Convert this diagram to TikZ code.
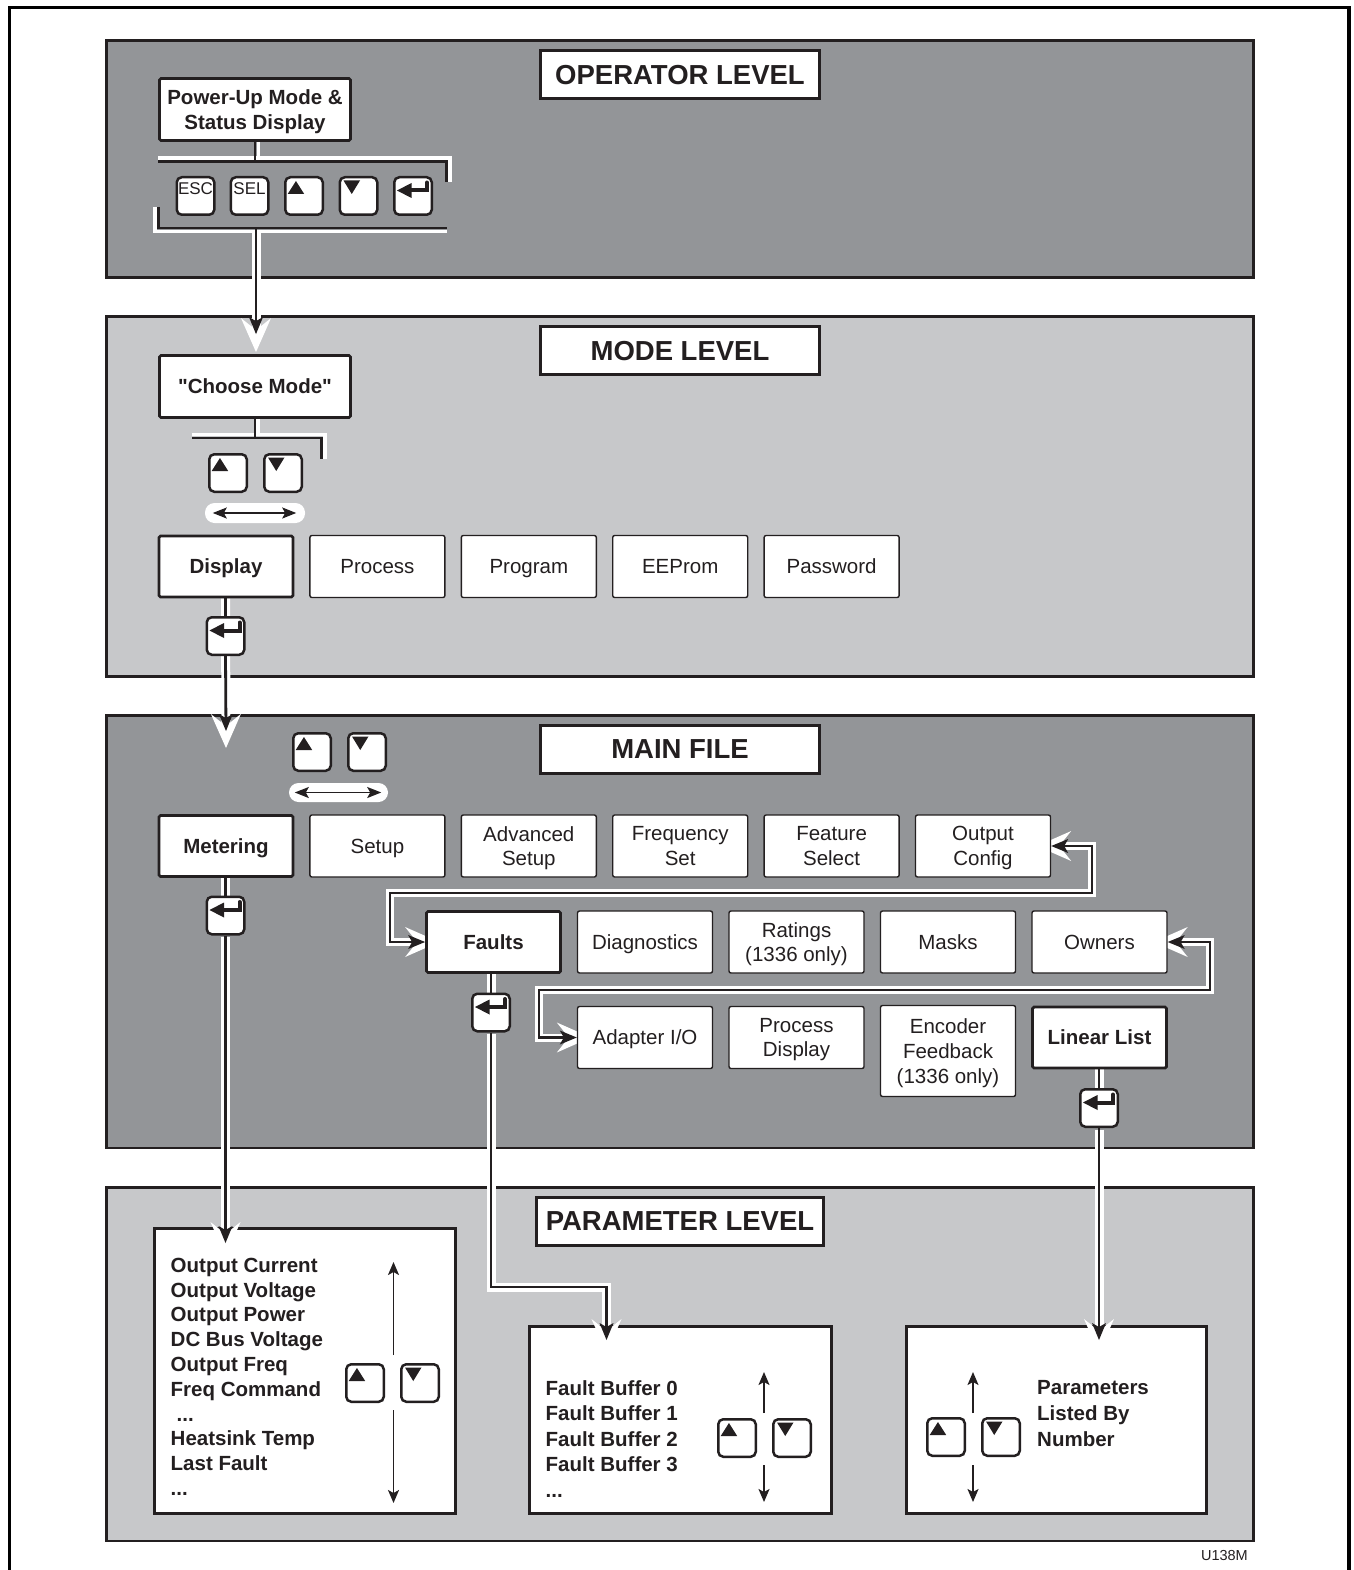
\documentclass[tikz,border=0pt]{standalone}
\usepackage{fontspec}
\setmainfont{Liberation Sans}
\newfontfamily\rawfont{Liberation Sans}
\usetikzlibrary{arrows.meta,calc}
\definecolor{ink}{HTML}{231F20}
\definecolor{darkpanel}{HTML}{939598}
\definecolor{lightpanel}{HTML}{C7C8CA}
\pgfdeclarelayer{bg}
\pgfdeclarelayer{conn}
\pgfsetlayers{bg,conn,main}
\newcommand{\dgbody}{\fontsize{20.5}{24.8}\selectfont}
\newcommand{\dgup}[1]{\fill[ink] ($(#1.north west)+(3.7,18)$) -- ++(16.5,0) -- ++(-8.25,-13) -- cycle;}
\newcommand{\dgdown}[1]{\fill[ink] ($(#1.north west)+(5,4.5)$) -- ++(16.5,0) -- ++(-8.25,13.5) -- cycle;}
\newcommand{\dgenter}[1]{\draw[ink, line width=4pt, line cap=round] ($(#1.north west)+(34,6.5)$) -- ++(0,8) -- ++(-16,0); \fill[ink] ($(#1.north west)+(4,14.5)$) -- ++(14.5,-7.5) -- ++(0,15) -- cycle;}
\tikzset{
  panelbox/.style={draw=ink, line width=2.5pt},
  titlebox/.style={draw=ink, line width=2.6pt, fill=white, minimum width=279pt, minimum height=48.5pt, inner sep=0pt, text depth=0pt, font=\bfseries\fontsize{27.5}{30}\selectfont, text=ink},
  plainbox/.style={draw=ink, line width=1.4pt, fill=white, rounded corners=2pt, minimum width=135pt, minimum height=62pt, inner sep=0pt, text depth=0pt, align=center, font=\dgbody, text=ink},
  boldbox/.style={plainbox, line width=2.8pt, rounded corners=1.5pt, minimum width=134pt, minimum height=61pt, font=\bfseries\dgbody},
  pkey/.style={draw=ink, line width=2.5pt, fill=white, rounded corners=5pt, minimum width=37.5pt, minimum height=37.5pt, inner sep=0pt},
  keytext/.style={anchor=base, inner sep=0pt, font=\fontsize{17}{17}\selectfont, text=ink},
  pill/.style={fill=white, rounded corners=9.5pt, minimum width=99pt, minimum height=19pt, inner sep=0pt},
  wband/.style={draw=white, line width=9pt},
  bline/.style={draw=ink, line width=2.8pt},
  wedge/.style={draw=white, line width=3.5pt},
  wtip/.style={-{Stealth[length=34pt,width=30pt,inset=12pt,line width=0pt]}},
  btip/.style={-{Stealth[length=17pt,width=14pt,inset=4pt,line width=0pt]}},
  wtips/.style={{Stealth[length=34pt,width=30pt,inset=12pt,line width=0pt]}-{Stealth[length=34pt,width=30pt,inset=12pt,line width=0pt]}},
  btips/.style={{Stealth[length=17pt,width=14pt,inset=4pt,line width=0pt]}-{Stealth[length=17pt,width=14pt,inset=4pt,line width=0pt]}},
  thinarrow/.style={draw=ink, line width=1.6pt, -{Stealth[length=13pt,width=11pt,inset=3pt]}},
  pillarrow/.style={draw=ink, line width=1.8pt, {Stealth[length=14pt,width=11pt,inset=3pt]}-{Stealth[length=14pt,width=11pt,inset=3pt]}},
  listtext/.style={font=\bfseries\dgbody, align=left, inner sep=0pt, anchor=north west, text=ink},
  parambox/.style={draw=ink, line width=2.8pt, fill=white, inner sep=0pt},
}
\begin{document}
\begin{tikzpicture}[x=1pt,y=-1pt]
\useasboundingbox (0,0) rectangle (1353,1570);
\begin{pgfonlayer}{bg}
  \fill[white] (0,0) rectangle (1353,1570);
  \draw[line width=3.5pt] (9.5,1575) -- (9.5,7.5) -- (1349,7.5) -- (1349,1575);
  \draw[panelbox, fill=darkpanel] (106.5,40.5) rectangle (1253.5,277.5);
  \draw[panelbox, fill=lightpanel] (106.5,316.5) rectangle (1253.5,676.5);
  \draw[panelbox, fill=darkpanel] (106.5,715.5) rectangle (1253.5,1148);
  \draw[panelbox, fill=lightpanel] (106.5,1187.5) rectangle (1253.5,1541);
\end{pgfonlayer}

% titles
\node[titlebox] (tOp) at (680,74.5) {OPERATOR LEVEL};
\node[titlebox] (tMo) at (680,350.5) {MODE LEVEL};
\node[titlebox] (tMa) at (680,749.5) {MAIN FILE};
\node[titlebox, minimum width=287pt] (tPa) at (680,1221.5) {PARAMETER LEVEL};

% operator level
\node[boldbox, minimum width=191pt, minimum height=62pt] (pwr) at (255,109.5) {Power-Up Mode \&\\Status Display};
\node[pkey] (kesc) at (195.5,196) {};
\node[pkey] (ksel) at (249.5,196) {};
\node[pkey] (kup) at (304,196) {};
\node[pkey] (kdn) at (358.5,196) {};
\node[pkey] (kent) at (413,196) {};
\node[keytext] (tesc) at ($(kesc.north)+(0,18.5)$) {ESC};
\node[keytext] (tsel) at ($(ksel.north)+(0,18.5)$) {SEL};
\dgup{kup} \dgdown{kdn} \dgenter{kent}

% mode level
\node[boldbox, minimum width=191pt, minimum height=62pt] (choose) at (255,386.5) {{\rawfont "Choose Mode"}};
\node[pkey] (mup) at (228,473) {};
\node[pkey] (mdn) at (283,473) {};
\dgup{mup} \dgdown{mdn}
\node[pill, minimum width=100pt, minimum height=20pt] (mpill) at (255,513) {};
\node[boldbox] (disp) at (226,566.5) {Display};
\node[plainbox] (proc) at (377.4,566.5) {Process};
\node[plainbox] (prog) at (528.8,566.5) {Program};
\node[plainbox] (eep) at (680.2,566.5) {EEProm};
\node[plainbox] (pwd) at (831.6,566.5) {Password};
\node[pkey] (dkey) at (225.5,636) {};
\dgenter{dkey}

% main file
\node[pkey] (fup) at (312,752) {};
\node[pkey] (fdn) at (367,752) {};
\dgup{fup} \dgdown{fdn}
\node[pill] (fpill) at (338.5,792.5) {};
\node[boldbox] (met) at (226,846) {Metering};
\node[plainbox] (setup) at (377.4,846) {Setup};
\node[plainbox] (adv) at (528.8,846) {Advanced\\Setup};
\node[plainbox] (freq) at (680.2,846) {Frequency\\Set};
\node[plainbox] (feat) at (831.6,846) {Feature\\Select};
\node[plainbox] (oc) at (983,846) {Output\\Config};
\node[boldbox] (fa) at (493.5,942) {Faults};
\node[plainbox] (diag) at (645,942) {Diagnostics};
\node[plainbox] (rat) at (796.5,942) {Ratings\\(1336 only)};
\node[plainbox] (mask) at (948,942) {Masks};
\node[plainbox] (ow) at (1099.5,942) {Owners};
\node[plainbox] (ad) at (645,1037.5) {Adapter I/O};
\node[plainbox] (pdisp) at (796.5,1037.5) {Process\\Display};
\node[plainbox, minimum height=91pt] (enc) at (948,1051) {Encoder\\Feedback\\(1336 only)};
\node[boldbox] (lin) at (1099.5,1037.5) {Linear List};
\node[pkey] (mkey) at (225.5,915.5) {};
\node[pkey] (fkey) at (491,1012.5) {};
\node[pkey] (lkey) at (1099,1108) {};
\dgenter{mkey} \dgenter{fkey} \dgenter{lkey}

% parameter level boxes
\node[parambox, minimum width=301pt, minimum height=285pt] (pb1) at (305,1371) {};
\node[parambox, minimum width=302pt, minimum height=187pt] (pb2) at (680.5,1420) {};
\node[parambox, minimum width=300pt, minimum height=187pt] (pb3) at (1056.5,1420) {};
\node[pkey] (p1u) at (365,1383) {};
\node[pkey] (p1d) at (420,1383) {};
\node[pkey] (p2u) at (737,1438) {};
\node[pkey] (p2d) at (792,1438) {};
\node[pkey] (p3u) at (946,1437) {};
\node[pkey] (p3d) at (1001,1437) {};
\dgup{p1u} \dgdown{p1d} \dgup{p2u} \dgdown{p2d} \dgup{p3u} \dgdown{p3d}

% pill arrows
\draw[pillarrow] ($(mpill.west)+(8,0)$) -- ($(mpill.east)+(-9,0)$);
\draw[pillarrow] ($(fpill.west)+(6,0)$) -- ($(fpill.east)+(-7,0)$);

% connectors behind nodes
\begin{pgfonlayer}{conn}
  % operator brackets
  \coordinate (tbL) at (158,161.5);
  \coordinate (tbR) at (446.5,161.5);
  \coordinate (tbE) at (446.5,182);
  \coordinate (bbT) at (158.5,207);
  \coordinate (bbL) at (158.5,228);
  \coordinate (bbR) at (447,228);
  \coordinate (bbS) at (256,228);
  \draw[wedge] ($(pwr.south)+(3.5,0)$) -- ($(pwr.south |- tbL)+(3.5,-3.5)$);
  \draw[wedge] ($(tbL)+(0,-3.5)$) -- ($(tbR)+(3.5,-3.5)$) -- ($(tbE)+(3.5,0)$);
  \draw[wedge] ($(bbT)+(-3.5,0)$) -- ($(bbL)+(-3.5,3.5)$) -- ($(bbR)+(0,3.5)$);
  \draw[wband, wtip] ($(bbS)+(0,5)$) -- ($(choose.north)+(1,-2)$);
  \draw[bline] (pwr.south) -- (pwr.south |- tbL);
  \draw[bline] (tbL) -- (tbR) -- (tbE);
  \draw[bline] (bbT) -- (bbL) -- (bbR);
  \draw[bline, btip] (bbS) -- ($(choose.north)+(1,-20)$);
  % mode bracket
  \coordinate (mbL) at (192,438);
  \coordinate (mbR) at (321.5,438);
  \coordinate (mbE) at (321.5,459);
  \draw[wedge] ($(choose.south)+(3,0)$) -- ($(choose.south |- mbL)+(3,-3.5)$);
  \draw[wedge] ($(mbL)+(0,-3.5)$) -- ($(mbR)+(3.5,-3.5)$) -- ($(mbE)+(3.5,0)$);
  \draw[bline] (choose.south) -- (choose.south |- mbL);
  \draw[bline] (mbL) -- (mbR) -- (mbE);
  % display -> main file
  \coordinate (dtipB) at (226,731);
  \coordinate (dtipW) at (226,748);
  \draw[wband, wtip] (dkey.north |- disp.south) -- (dtipW);
  \draw[bline] (dkey.north |- disp.south) -- (dkey.north);
  \draw[bline, btip] (dkey.south) -- (dtipB);
  % stems from main file boxes to their keys
  \draw[wband] (mkey.north |- met.south) -- (mkey.north);
  \draw[bline] (mkey.north |- met.south) -- (mkey.north);
  \draw[wband] (fkey.north |- fa.south) -- (fkey.north);
  \draw[bline] (fkey.north |- fa.south) -- (fkey.north);
  \draw[wband] (lkey.north |- lin.south) -- (lkey.north);
  \draw[bline] (lkey.north |- lin.south) -- (lkey.north);
  % loop Output Config <-> Faults
  \coordinate (l1a) at (1092,846);
  \coordinate (l1b) at (1092,893);
  \coordinate (l1c) at (390,893);
  \coordinate (l1d) at (390,942);
  \draw[wband, line width=8pt, wtips] ($(oc.east)+(-14,0)$) -- (l1a) -- (l1b) -- (l1c) -- (l1d) -- ($(fa.west)+(14,0)$);
  \draw[bline, btips] (oc.east) -- (l1a) -- (l1b) -- (l1c) -- (l1d) -- (fa.west);
  % loop Owners <-> Adapter I/O
  \coordinate (l2a) at (1210,942);
  \coordinate (l2b) at (1210,990);
  \coordinate (l2c) at (539,990);
  \coordinate (l2d) at (539,1037.5);
  \draw[wband, line width=8pt, wtips] ($(ow.east)+(-14,0)$) -- (l2a) -- (l2b) -- (l2c) -- (l2d) -- ($(ad.west)+(14,0)$);
  \draw[bline, btips] (ow.east) -- (l2a) -- (l2b) -- (l2c) -- (l2d) -- (ad.west);
\end{pgfonlayer}

% stems into the parameter boxes (drawn over the boxes)
\coordinate (mtipB) at (225.5,1243);
\coordinate (mtipW) at (225.5,1256);
\draw[wband, wtip] ($(mkey.south)+(0,1.5)$) -- (mtipW);
\draw[bline, btip] (mkey.south) -- (mtipB);
\coordinate (fb1) at (491,1287);
\coordinate (fb2) at (606.5,1287);
\coordinate (ftipB) at (606.5,1340);
\coordinate (ftipW) at (606.5,1353);
\draw[wband, wtip] ($(fkey.south)+(0,1.5)$) -- (fb1) -- (fb2) -- (ftipW);
\draw[bline, btip] (fkey.south) -- (fb1) -- (fb2) -- (ftipB);
\coordinate (ltipB) at (1099,1340);
\coordinate (ltipW) at (1099,1353);
\draw[wband, wtip] ($(lkey.south)+(0,1.5)$) -- (ltipW);
\draw[bline, btip] (lkey.south) -- (ltipB);

% scroll arrows in the parameter boxes
\coordinate (a1t) at (393.5,1262);
\coordinate (a1m) at (393.5,1355);
\coordinate (a1n) at (393.5,1410);
\coordinate (a1b) at (393.5,1503);
\draw[thinarrow] (a1m) -- (a1t);
\draw[thinarrow] (a1n) -- (a1b);
\coordinate (a2t) at (764,1372);
\coordinate (a2m) at (764,1413);
\coordinate (a2n) at (764,1465);
\coordinate (a2b) at (764,1502);
\draw[thinarrow] (a2m) -- (a2t);
\draw[thinarrow] (a2n) -- (a2b);
\coordinate (a3t) at (973,1372);
\coordinate (a3m) at (973,1413);
\coordinate (a3n) at (973,1465);
\coordinate (a3b) at (973,1502);
\draw[thinarrow] (a3m) -- (a3t);
\draw[thinarrow] (a3n) -- (a3b);

% parameter texts
\node[listtext] (txt1) at (170.5,1257.8) {Output Current\\Output Voltage\\Output Power\\DC Bus Voltage\\Output Freq\\Freq Command\\\hspace*{6pt}...\\Heatsink Temp\\Last Fault\\...};
\node[listtext, font=\bfseries\fontsize{20.5}{25.6}\selectfont] (txt2) at (545.5,1380) {Fault Buffer 0\\Fault Buffer 1\\Fault Buffer 2\\Fault Buffer 3\\...};
\node[listtext, font=\bfseries\fontsize{20.5}{26}\selectfont] (txt3) at (1037,1380.2) {Parameters\\Listed By\\Number};

\node[anchor=base east, font=\fontsize{14.5}{14.5}\selectfont, inner sep=0pt, text=ink] (code) at (1248,1560) {U138M};
\end{tikzpicture}
\end{document}
